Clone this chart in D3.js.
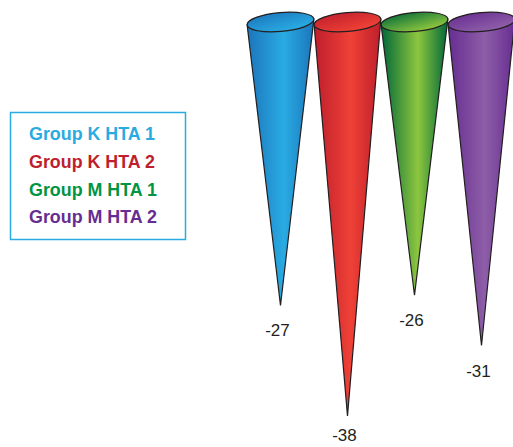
<!DOCTYPE html>
<html>
<head>
<meta charset="utf-8">
<script src="https://cdn.jsdelivr.net/npm/d3@7"></script>
<style>
  html, body { margin: 0; padding: 0; background: #ffffff; }
  svg { display: block; }
</style>
</head>
<body>
<svg id="chart" width="513" height="447"></svg>
<script>
// Series shown as inverted cones, one per group
const categories = ["Group K HTA 1", "Group K HTA 2", "Group M HTA 1", "Group M HTA 2"];
const values = [-27, -38, -26, -31];

// Palette: [edge shade, highlight, legend text]
const edgeColors = ["#1c75bc", "#be1e2d", "#006838", "#662d91"];
const lightColors = ["#29abe2", "#ef4136", "#8dc63f", "#8e5ea8"];
const textColors = ["#29abe2", "#be1e2d", "#009444", "#662d91"];

const svg = d3.select("#chart");

// Horizontal placement of the cones
const x = d3.scaleBand().domain(categories).range([247, 515]).padding(0);
// Depth of each cone tip from its value
const y = d3.scaleLinear().domain([0, -40]).range([34, 436]);

const topY = 22;
const rx = x.bandwidth() / 2;
const ry = 9.5;
const tilt = -5; // degrees
const tr = tilt * Math.PI / 180;

const defs = svg.append("defs");
categories.forEach((c, i) => {
  const g = defs.append("linearGradient")
    .attr("id", "body" + i)
    .attr("x1", 0).attr("y1", 0).attr("x2", 1).attr("y2", 0);
  g.append("stop").attr("offset", "0%").attr("stop-color", edgeColors[i]);
  g.append("stop").attr("offset", "55%").attr("stop-color", lightColors[i]);
  g.append("stop").attr("offset", "100%").attr("stop-color", edgeColors[i]);

  const t = defs.append("linearGradient")
    .attr("id", "top" + i)
    .attr("x1", 0).attr("y1", 0).attr("x2", 0.6).attr("y2", 1);
  t.append("stop").attr("offset", "0%").attr("stop-color", edgeColors[i]);
  t.append("stop").attr("offset", "100%").attr("stop-color", lightColors[i]);
});

const cones = svg.append("g").attr("class", "cones")
  .selectAll("g")
  .data(categories.map((c, i) => ({ c, v: values[i], i })))
  .join("g");

cones.each(function(d) {
  const g = d3.select(this);
  const cx = x(d.c) + x.bandwidth() / 2;
  const tipY = y(d.v);
  const dx = rx * Math.cos(tr), dy = rx * Math.sin(tr);
  const left = [cx - dx, topY - dy];
  const right = [cx + dx, topY + dy];

  g.append("path")
    .attr("d", `M${left[0]},${left[1]} L${cx},${tipY} L${right[0]},${right[1]} Z`)
    .attr("fill", `url(#body${d.i})`)
    .attr("stroke", "#231f20")
    .attr("stroke-width", 1.2)
    .attr("stroke-linejoin", "miter");

  g.append("ellipse")
    .attr("cx", cx).attr("cy", topY)
    .attr("rx", rx).attr("ry", ry)
    .attr("transform", `rotate(${tilt},${cx},${topY})`)
    .attr("fill", `url(#top${d.i})`)
    .attr("stroke", "#231f20")
    .attr("stroke-width", 1.2);

  g.append("text")
    .attr("x", cx - 3)
    .attr("y", Math.min(tipY + 31, 441))
    .attr("text-anchor", "middle")
    .attr("font-family", "Liberation Sans, Arial, Helvetica, sans-serif")
    .attr("font-size", 17)
    .attr("fill", "#231f20")
    .text(d.v);
});

// Legend
const legend = svg.append("g").attr("class", "legend");
legend.append("rect")
  .attr("x", 10.5).attr("y", 112.5)
  .attr("width", 175).attr("height", 127)
  .attr("fill", "#ffffff")
  .attr("stroke", "#29abe2")
  .attr("stroke-width", 1.5);

const legendText = legend.append("g")
  .selectAll("text")
  .data(categories)
  .join("text")
  .attr("x", 0)
  .attr("y", (d, i) => i * 27.8)
  .attr("font-family", "Liberation Sans, Arial, Helvetica, sans-serif")
  .attr("font-size", 17.5)
  .attr("font-weight", "bold")
  .attr("fill", (d, i) => textColors[i])
  .text(d => d);

// Labels are set in a narrow face: compress horizontally so the first entry spans 126px
const w0 = legendText.node().getComputedTextLength();
const sx = w0 > 0 ? 126 / w0 : 1;
legendText.attr("transform", `translate(29,140) scale(${sx},1)`);
</script>
</body>
</html>
